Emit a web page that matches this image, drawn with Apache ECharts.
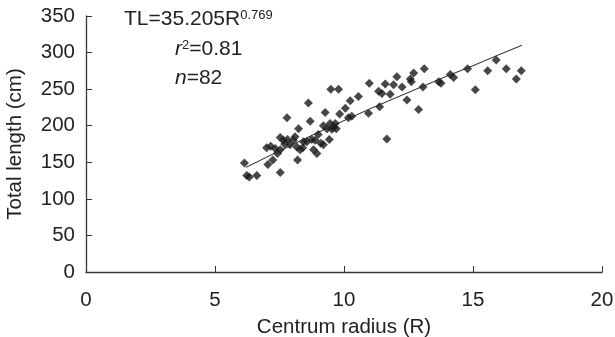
<!DOCTYPE html>
<html>
<head>
<meta charset="utf-8">
<script src="https://cdn.jsdelivr.net/npm/echarts@6/dist/echarts.min.js"></script>
<style>
    html, body { margin: 0; padding: 0; background: #fff; }
    #main { width: 615px; height: 337px; }
</style>
</head>
<body>
<div id="main"></div>
<script>
// centrum radius (R) of each fish
var radius = [6.14, 6.23, 6.33, 6.62, 7.05, 7.24, 7.53, 7.53, 7.79, 7.16,
    7.33, 7.42, 7.53, 7.65, 7.81, 7.91, 8.04, 8.17, 8.20, 8.24,
    8.30, 8.43, 8.56, 8.62, 8.69, 8.75, 8.82, 8.95, 8.88, 9.10,
    9.20, 9.27, 9.20, 9.34, 9.46, 9.49, 9.43, 9.53, 9.66, 9.70,
    9.79, 9.83, 10.05, 10.17, 10.24, 10.56, 10.95, 10.98, 11.34, 11.38,
    11.47, 11.60, 11.66, 11.79, 11.92, 12.05, 12.25, 12.44, 12.57, 12.61,
    12.70, 12.89, 13.06, 13.11, 13.67, 13.76, 14.12, 14.25, 14.79, 15.09,
    15.57, 15.90, 16.29, 16.68, 16.87, 7.00, 7.70, 8.10, 8.40, 9.00,
    9.60, 10.30];
// total length (cm)
var totalLength = [149, 132, 130, 132, 147, 153, 136, 184, 211, 172,
    169, 162, 167, 180, 181, 174, 180, 171, 153, 196,
    167, 178, 178, 231, 206, 181, 167, 162, 180, 176,
    174, 218, 200, 196, 203, 250, 181, 195, 203, 196,
    250, 216, 224, 211, 234, 240, 217, 258, 247, 226,
    244, 257, 182, 243, 256, 267, 253, 235, 264, 260,
    272, 222, 253, 278, 260, 258, 270, 266, 278, 249,
    275, 290, 278, 264, 275, 170, 175, 185, 170, 188,
    198, 213];

// fitted curve TL = 35.205 R^0.769
var fitR = [6.2, 7, 8, 9, 10, 11, 12, 13, 14, 15, 16, 16.9];
var fitTL = [143, 157, 174, 191, 207, 223, 238, 253, 268, 282, 297, 310];

var xTicks = [0, 5, 10, 15, 20];
var yTicks = [0, 50, 100, 150, 200, 250, 300, 350];

var points = [];
for (var i = 0; i < radius.length; i++) {
    points.push([radius[i], totalLength[i]]);
}
var fitLine = [];
for (var j = 0; j < fitR.length; j++) {
    fitLine.push([fitR[j], fitTL[j]]);
}

var font = 'Liberation Sans, Arial, sans-serif';
var fs = 20.5;
var chart = echarts.init(document.getElementById('main'));

var option = {
    animation: false,
    backgroundColor: '#fff',
    grid: { left: 86, right: 13, top: 16, bottom: 65, containLabel: false, outerBoundsMode: 'none' },
    xAxis: {
        type: 'value',
        min: xTicks[0],
        max: xTicks[xTicks.length - 1],
        interval: 5,
        name: 'Centrum radius (R)',
        nameLocation: 'middle',
        nameGap: 45,
        nameTextStyle: { color: '#222', fontSize: fs, fontFamily: font },
        axisLine: { lineStyle: { color: '#333', width: 1.3 } },
        axisTick: { inside: true, length: 6, lineStyle: { color: '#333' } },
        axisLabel: { color: '#222', fontSize: fs, fontFamily: font, margin: 18 },
        splitLine: { show: false }
    },
    yAxis: {
        type: 'value',
        min: yTicks[0],
        max: yTicks[yTicks.length - 1],
        interval: 50,
        name: 'Total length (cm)',
        nameLocation: 'middle',
        nameGap: 60,
        nameRotate: 90,
        nameTextStyle: { color: '#222', fontSize: fs, fontFamily: font },
        axisLine: { show: true, lineStyle: { color: '#333', width: 1.3 } },
        axisTick: { show: true, inside: true, length: 6, lineStyle: { color: '#333' } },
        axisLabel: { color: '#222', fontSize: fs, fontFamily: font, margin: 11 },
        splitLine: { show: false }
    },
    graphic: [{
        type: 'text',
        left: 124,
        top: 9,
        style: {
            text: '{n|TL=35.205R}{s|0.769}',
            rich: {
                n: { fontSize: 21, fontFamily: font, fill: '#222' },
                s: { fontSize: 13, fontFamily: font, fill: '#222', verticalAlign: 'top' }
            }
        }
    }, {
        type: 'text',
        left: 175,
        top: 39,
        style: {
            text: '{i|r}{s|2}{n|=0.81}',
            rich: {
                n: { fontSize: 21, fontFamily: font, fill: '#222' },
                i: { fontSize: 21, fontFamily: font, fill: '#222', fontStyle: 'italic' },
                s: { fontSize: 13, fontFamily: font, fill: '#222', verticalAlign: 'top' }
            }
        }
    }, {
        type: 'text',
        left: 175,
        top: 68,
        style: {
            text: '{i|n}{n|=82}',
            rich: {
                n: { fontSize: 21, fontFamily: font, fill: '#222' },
                i: { fontSize: 21, fontFamily: font, fill: '#222', fontStyle: 'italic' }
            }
        }
    }],
    series: [{
        name: 'fit',
        type: 'line',
        data: fitLine,
        showSymbol: false,
        smooth: false,
        lineStyle: { color: '#222', width: 1 },
        z: 3
    }, {
        name: 'fish',
        type: 'scatter',
        data: points,
        symbol: 'diamond',
        symbolSize: 9,
        itemStyle: { color: '#1a1a1a' },
        z: 2
    }]
};

chart.setOption(option);
</script>
</body>
</html>
